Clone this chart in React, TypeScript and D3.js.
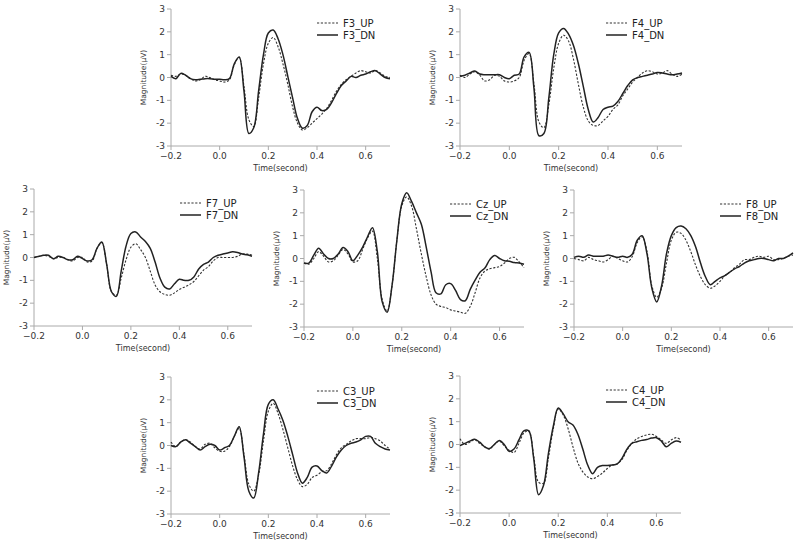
import React from 'react';
import * as d3 from 'd3';

// sample times (s)
const times = [
  -0.2, -0.18, -0.16, -0.14, -0.12, -0.1, -0.08, -0.06, -0.04, -0.02,
  0.0, 0.02, 0.04, 0.06, 0.08, 0.1, 0.12, 0.14, 0.16, 0.18,
  0.2, 0.22, 0.24, 0.26, 0.28, 0.3, 0.32, 0.34, 0.36, 0.38,
  0.4, 0.42, 0.44, 0.46, 0.48, 0.5, 0.52, 0.54, 0.56, 0.58,
  0.6, 0.62, 0.64, 0.66, 0.68, 0.7,
];
const xTicks = [-0.2, 0.0, 0.2, 0.4, 0.6];
const yTicks = [-3, -2, -1, 0, 1, 2, 3];

const F3_UP = [0.1, 0.05, 0.15, 0.1, -0.05, -0.15, -0.1, 0.05, 0.0, -0.1, -0.15, -0.2, -0.1, 0.55, 0.88, -0.4, -1.85, -2.15, -0.9, 0.6, 1.5, 1.75, 1.35, 0.6, -0.3, -1.3, -2.0, -2.3, -2.2, -2.0, -1.8, -1.6, -1.35, -1.0, -0.6, -0.3, -0.1, 0.05, 0.2, 0.3, 0.25, 0.2, 0.3, 0.2, 0.05, 0.0];
const F3_DN = [0.05, -0.05, 0.18, 0.1, -0.05, -0.1, -0.08, -0.05, -0.05, -0.08, -0.08, -0.1, -0.05, 0.6, 0.9, -0.6, -2.45, -2.2, -0.6, 1.0, 1.95, 2.08, 1.7, 1.0, 0.05, -0.9, -1.8, -2.22, -2.1, -1.5, -1.3, -1.45, -1.4, -1.1, -0.7, -0.35, -0.15, 0.05, 0.0, 0.1, 0.15, 0.25, 0.3, 0.15, 0.0, -0.05];

const F4_UP = [0.1, 0.0, 0.15, 0.25, 0.1, -0.15, -0.1, 0.1, 0.05, -0.15, -0.2, -0.15, 0.0, 0.75, 1.05, -0.3, -1.95, -2.2, -1.2, 0.4, 1.5, 1.85, 1.6, 0.8, -0.3, -1.3, -1.9, -2.1, -2.1, -1.9, -1.7, -1.4, -1.2, -0.8, -0.5, -0.2, 0.0, 0.2, 0.3, 0.25, 0.15, 0.2, 0.3, 0.15, 0.05, 0.15];
const F4_DN = [0.05, 0.1, 0.2, 0.28, 0.15, 0.12, 0.12, 0.12, 0.12, 0.0, -0.05, 0.1, 0.15, 0.9, 1.1, -0.5, -2.55, -2.45, -0.9, 1.0, 1.95, 2.15, 1.9, 1.4, 0.6, -0.4, -1.4, -1.95, -1.75, -1.4, -1.3, -1.25, -1.05, -0.7, -0.35, -0.1, 0.0, 0.05, 0.1, 0.15, 0.22, 0.2, 0.15, 0.12, 0.15, 0.2];

const F7_UP = [0.0, 0.05, 0.1, 0.05, -0.05, 0.0, 0.0, -0.1, -0.15, 0.0, 0.0, -0.2, -0.15, 0.4, 0.65, -0.3, -1.5, -1.65, -0.9, -0.1, 0.45, 0.6, 0.35, 0.0, -0.6, -1.2, -1.5, -1.62, -1.65, -1.55, -1.4, -1.3, -1.2, -1.05, -0.8, -0.55, -0.4, -0.15, 0.0, 0.0, 0.0, 0.0, 0.05, 0.15, 0.15, 0.1];
const F7_DN = [0.0, 0.05, 0.1, 0.1, -0.05, 0.05, 0.0, -0.1, -0.1, 0.05, -0.05, -0.15, -0.1, 0.4, 0.68, -0.3, -1.5, -1.7, -0.6, 0.5, 1.05, 1.12, 0.9, 0.7, 0.4, -0.2, -0.9, -1.3, -1.38, -1.15, -0.95, -1.0, -1.0, -0.85, -0.5, -0.3, -0.2, 0.0, 0.1, 0.15, 0.2, 0.25, 0.22, 0.15, 0.12, 0.05];

const Cz_UP = [-0.2, -0.25, 0.0, 0.3, 0.1, -0.15, -0.1, 0.15, 0.4, 0.2, -0.15, -0.1, 0.4, 0.9, 1.2, 0.0, -1.8, -2.3, -1.2, 0.8, 2.3, 2.7, 2.3, 1.3, 0.2, -0.8, -1.6, -2.0, -2.1, -2.15, -2.25, -2.3, -2.35, -2.4, -2.1, -1.5, -0.85, -0.55, -0.45, -0.4, -0.35, -0.2, 0.0, 0.05, -0.15, -0.4];
const Cz_DN = [-0.2, -0.2, 0.15, 0.45, 0.2, 0.0, 0.0, 0.2, 0.48, 0.3, -0.1, 0.15, 0.5, 0.95, 1.35, 0.3, -1.9, -2.35, -1.2, 0.8, 2.4, 2.88, 2.5, 2.0, 1.5, 0.5, -0.6, -1.5, -1.55, -1.15, -1.1, -1.4, -1.8, -1.85, -1.35, -0.95, -0.6, -0.42, -0.05, 0.13, 0.0, -0.1, -0.12, -0.18, -0.2, -0.25];

const F8_UP = [0.0, -0.05, -0.1, 0.05, -0.05, -0.1, -0.15, -0.05, 0.1, 0.0, -0.1, -0.15, 0.1, 0.7, 0.95, 0.3, -1.2, -1.7, -1.3, -0.2, 0.8, 1.15, 1.1, 0.8, 0.3, -0.3, -0.8, -1.15, -1.3, -1.2, -1.0, -0.75, -0.6, -0.4, -0.25, -0.05, -0.05, 0.05, 0.1, 0.05, 0.1, -0.05, -0.05, 0.0, 0.1, 0.15];
const F8_DN = [0.05, 0.1, 0.05, 0.15, 0.1, 0.1, 0.1, 0.15, 0.1, 0.05, 0.1, 0.05, 0.2, 0.8, 1.0, 0.2, -1.3, -1.9, -1.2, 0.2, 1.0, 1.35, 1.42, 1.3, 1.0, 0.5, -0.2, -0.8, -1.15, -1.0, -0.85, -0.75, -0.6, -0.45, -0.35, -0.2, -0.1, -0.05, 0.0, 0.0, -0.05, -0.1, 0.0, 0.0, 0.1, 0.25];

const C3_UP = [0.15, -0.05, 0.15, 0.25, 0.15, -0.05, -0.15, 0.05, 0.1, -0.1, -0.25, -0.25, -0.05, 0.4, 0.75, -0.4, -1.7, -2.0, -1.3, 0.2, 1.5, 1.85, 1.4, 0.7, -0.1, -0.9, -1.5, -1.8, -1.7, -1.4, -1.3, -1.15, -1.1, -0.8, -0.4, -0.1, 0.05, 0.2, 0.3, 0.3, 0.3, 0.35, 0.3, 0.2, 0.0, -0.15];
const C3_DN = [0.0, -0.05, 0.15, 0.25, 0.1, -0.05, -0.2, -0.05, 0.05, 0.0, -0.2, -0.1, 0.0, 0.4, 0.82, -0.5, -2.0, -2.3, -1.2, 0.5, 1.8, 2.0, 1.6, 1.1, 0.4, -0.4, -1.2, -1.65, -1.4, -0.95, -0.9, -1.1, -1.2, -0.9, -0.5, -0.2, 0.0, 0.1, 0.15, 0.25, 0.4, 0.4, 0.1, -0.05, -0.15, -0.2];

const C4_UP = [0.25, 0.0, 0.1, 0.2, 0.05, -0.1, -0.2, 0.0, 0.15, -0.05, -0.25, -0.35, 0.05, 0.5, 0.6, -0.5, -1.65, -1.7, -0.6, 0.7, 1.55, 1.3, 0.7, -0.1, -0.8, -1.2, -1.42, -1.5, -1.4, -1.25, -1.05, -0.9, -0.85, -0.65, -0.25, 0.05, 0.25, 0.35, 0.42, 0.45, 0.35, 0.2, 0.05, 0.2, 0.3, 0.2];
const C4_DN = [-0.05, 0.05, 0.15, 0.23, 0.1, -0.1, -0.18, 0.0, 0.18, 0.0, -0.3, -0.2, 0.2, 0.6, 0.6, -0.6, -2.2, -1.8, -0.4, 0.8, 1.6, 1.35, 1.0, 0.85, 0.45, -0.2, -0.9, -1.28, -1.0, -0.92, -0.92, -0.9, -0.85, -0.6, -0.2, 0.05, 0.12, 0.18, 0.22, 0.28, 0.3, 0.15, -0.1, 0.05, 0.15, 0.1];

const channels = [
  { name: 'F3', up: F3_UP, dn: F3_DN, left: 171, top: 9, w: 219 },
  { name: 'F4', up: F4_UP, dn: F4_DN, left: 460, top: 9, w: 222 },
  { name: 'F7', up: F7_UP, dn: F7_DN, left: 34, top: 189, w: 218 },
  { name: 'Cz', up: Cz_UP, dn: Cz_DN, left: 304, top: 190, w: 220 },
  { name: 'F8', up: F8_UP, dn: F8_DN, left: 574, top: 190, w: 219 },
  { name: 'C3', up: C3_UP, dn: C3_DN, left: 171, top: 377, w: 219 },
  { name: 'C4', up: C4_UP, dn: C4_DN, left: 460, top: 376, w: 221 },
];

const H = 137;
const FONT = '"DejaVu Sans", Verdana, sans-serif';

const Panel = ({ ch }: { ch: typeof channels[number] }) => {
  const x = d3.scaleLinear().domain([-0.2, 0.7]).range([ch.left, ch.left + ch.w]);
  const y = d3.scaleLinear().domain([-3, 3]).range([ch.top + H, ch.top]);
  const line = d3.line<number>()
    .x((_, i) => x(times[i]))
    .y(d => y(d))
    .curve(d3.curveCatmullRom.alpha(0.5));
  const fmt = d3.format('.1f');
  const base = y(-3);
  const lx = ch.left + 146;

  return (
    <g>
      {/* axes */}
      <line x1={x(-0.2)} x2={x(0.7)} y1={base} y2={base} stroke="#aaa" />
      <line x1={ch.left} x2={ch.left} y1={y(3)} y2={base} stroke="#aaa" />
      {yTicks.map(t => (
        <g key={'y' + t}>
          <line x1={ch.left - 4} x2={ch.left} y1={y(t)} y2={y(t)} stroke="#aaa" />
          <text x={ch.left - 6} y={y(t)} dy="0.35em" textAnchor="end" fontSize={9} fill="#333">{t}</text>
        </g>
      ))}
      {xTicks.map(t => (
        <g key={'x' + t}>
          <line x1={x(t)} x2={x(t)} y1={base} y2={base + 4} stroke="#aaa" />
          <text x={x(t)} y={base + 13} textAnchor="middle" fontSize={9} fill="#333">{fmt(t)}</text>
        </g>
      ))}
      <text x={ch.left + ch.w / 2} y={base + 25} textAnchor="middle" fontSize={8} fill="#333">Time(second)</text>
      <text transform={`translate(${ch.left - 25},${ch.top + H / 2}) rotate(-90)`} textAnchor="middle" fontSize={7.5} fill="#333">Magnitude(μV)</text>

      {/* series */}
      <path d={line(ch.up) || ''} fill="none" stroke="#333" strokeWidth={1.1} strokeDasharray="2.2,1.6" />
      <path d={line(ch.dn) || ''} fill="none" stroke="#222" strokeWidth={1.5} />

      {/* legend */}
      <line x1={lx} x2={lx + 21} y1={ch.top + 14} y2={ch.top + 14} stroke="#333" strokeWidth={1.1} strokeDasharray="2.2,1.6" />
      <text x={lx + 26} y={ch.top + 14} dy="0.35em" fontSize={10} fill="#222">{ch.name}_UP</text>
      <line x1={lx} x2={lx + 21} y1={ch.top + 26} y2={ch.top + 26} stroke="#222" strokeWidth={1.5} />
      <text x={lx + 26} y={ch.top + 26} dy="0.35em" fontSize={10} fill="#222">{ch.name}_DN</text>
    </g>
  );
};

const App = () => (
  <svg width={800} height={545} style={{ position: 'absolute', left: 0, top: 0, background: '#fff' }} fontFamily={FONT}>
    {channels.map(ch => <Panel key={ch.name} ch={ch} />)}
  </svg>
);

export default App;
